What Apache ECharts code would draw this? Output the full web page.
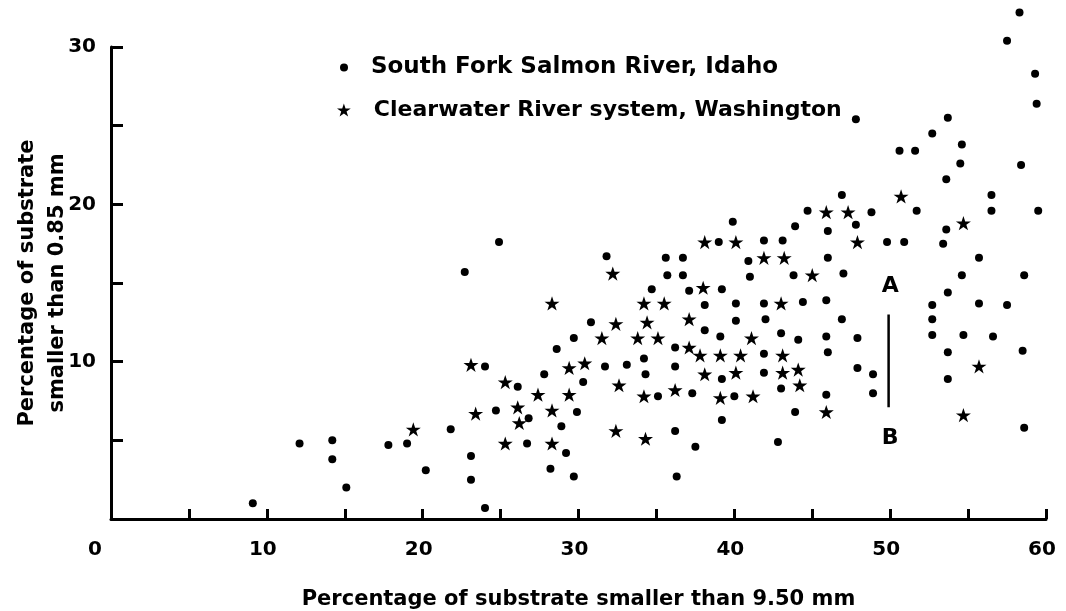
<!DOCTYPE html>
<html><head><meta charset="utf-8">
<script src="https://cdn.jsdelivr.net/npm/echarts/dist/echarts.min.js"></script>
<style>html,body{margin:0;padding:0;background:#fff}#c{width:1066px;height:611px}</style>
</head><body><div id="c"></div>
<script>
// ---- data ----
const xTickLabels = [0, 10, 20, 30, 40, 50, 60];
const yTickLabels = [10, 20, 30];
const salmonName = 'South Fork Salmon River, Idaho';
const clearwaterName = 'Clearwater River system, Washington';
const xTitle = 'Percentage of substrate smaller than 9.50 mm';
const yTitle = 'Percentage of substrate\nsmaller than 0.85 mm';

const salmonPoints = [
  [58.3,32.2],[57.5,30.4],[59.3,28.3],[59.4,26.4],[47.8,25.4],[53.7,25.5],[52.7,24.5],[54.6,23.8],
  [50.6,23.4],[51.6,23.4],[54.5,22.6],[58.4,22.5],[53.6,21.6],[46.9,20.6],[56.5,20.6],
  [44.7,19.6],[48.8,19.5],[51.7,19.6],[56.5,19.6],[59.5,19.6],[47.8,18.7],[46.0,18.3],[53.6,18.4],
  [49.8,17.6],[50.9,17.6],[53.4,17.5],[46.0,16.6],[55.7,16.6],[47.0,15.6],[54.6,15.5],[58.6,15.5],
  [44.4,13.8],[45.9,13.9],[53.7,14.4],[52.7,13.6],[55.7,13.7],[57.5,13.6],[46.9,12.7],[52.7,12.7],
  [45.9,11.6],[47.9,11.5],[52.7,11.7],[54.7,11.7],[56.6,11.6],[46.0,10.6],[53.7,10.6],[58.5,10.7],
  [47.9,9.6],[48.9,9.2],[53.7,8.9],[48.9,8.0],[45.9,7.9],[58.6,5.8],
  [39.9,18.9],[43.9,18.6],[39.0,17.6],[41.9,17.7],[43.1,17.7],[31.8,16.7],[35.6,16.6],[36.7,16.6],
  [40.9,16.4],[35.7,15.5],[36.7,15.5],[41.0,15.4],[43.8,15.5],[34.7,14.6],[37.1,14.5],[39.2,14.6],
  [38.1,13.6],[40.1,13.7],[41.9,13.7],[30.8,12.5],[40.1,12.6],[42.0,12.7],[29.7,11.5],[38.1,12.0],
  [39.1,11.6],[43.0,11.8],[44.1,11.4],[36.2,10.9],[41.9,10.5],[31.7,9.7],[33.1,9.8],[34.2,10.2],
  [36.2,9.7],[34.3,9.2],[39.2,8.9],[41.9,9.3],
  [30.3,8.7],[35.1,7.8],[37.3,8.0],[40.0,7.8],[43.0,8.3],[43.9,6.8],[29.9,6.8],[39.2,6.3],
  [36.2,5.6],[37.5,4.6],[42.8,4.9],[29.7,2.7],[36.3,2.7],
  [26.1,8.4],[27.8,9.2],[24.7,6.9],[26.8,6.4],[28.9,5.9],[21.8,5.7],[26.7,4.8],[29.2,4.2],
  [28.2,3.2],[14.2,5.0],[14.2,3.8],[17.8,4.7],[19.0,4.8],[20.2,3.1],[15.1,2.0],[23.1,4.0],
  [23.1,2.5],[24.0,0.7],[12.1,4.8],[9.1,1.0],
  [24.9,17.6],[22.7,15.7],[28.6,10.8],[24.0,9.7]
];

const clearwaterPoints = [
  [50.7,20.5],[45.9,19.5],[47.3,19.5],[54.7,18.8],[47.9,17.6],[45.0,15.5],[55.7,9.7],[45.9,6.8],[54.7,6.6],
  [38.1,17.6],[40.1,17.6],[41.9,16.6],[43.2,16.6],[32.2,15.6],[38.0,14.7],[34.2,13.7],[35.5,13.7],
  [43.0,13.7],[32.4,12.4],[34.4,12.5],[37.1,12.7],[31.5,11.5],[33.8,11.5],[35.1,11.5],[41.1,11.5],
  [37.1,10.9],[37.8,10.4],[39.1,10.4],[40.4,10.4],[43.1,10.4],[30.4,9.9],[38.1,9.2],[40.1,9.3],
  [43.1,9.3],[44.1,9.5],
  [32.6,8.5],[34.2,7.8],[36.2,8.2],[39.1,7.7],[41.2,7.8],[44.2,8.5],[32.4,5.6],[34.3,5.1],
  [25.3,8.7],[29.4,9.6],[27.4,7.9],[29.4,7.9],[23.4,6.7],[26.1,7.1],[28.3,6.9],[26.2,6.1],
  [19.4,5.7],[25.3,4.8],[28.3,4.8],
  [28.3,13.7],[23.1,9.8]
];

const abLine = [[49.9,13.0],[49.9,7.1]];
const abLabels = [[50.0,14.8,'A'],[50.0,5.1,'B']];

// ---- chart ----
const FONT = 'DejaVu Sans';
const STAR = 'path://M50,0 L61.8,35.3 L99,35.3 L69,57.1 L80.4,92.7 L50,70.6 L19.6,92.7 L31,57.1 L1,35.3 L38.2,35.3 Z';
const chart = echarts.init(document.getElementById('c'), null, {renderer: 'canvas'});
const txt = {color: '#000', fontFamily: FONT, fontWeight: 'bold'};

chart.setOption({
  backgroundColor: '#fff',
  animation: false,
  grid: {left: 111, right: 20, top: 47, bottom: 92, containLabel: false, outerBoundsMode: 'none'},
  legend: [
    {data: [salmonName], left: 335, top: 51, orient: 'vertical', icon: 'circle',
     itemWidth: 44, itemHeight: 8, textStyle: Object.assign({fontSize: 23}, txt), selectedMode: false},
    {data: [clearwaterName], left: 332, top: 94, orient: 'vertical', icon: STAR,
     itemWidth: 50, itemHeight: 13, textStyle: Object.assign({fontSize: 22}, txt), selectedMode: false}
  ],
  xAxis: {
    type: 'value', min: 0, max: 60, interval: 5,
    axisLine: {lineStyle: {color: '#000', width: 3}},
    axisTick: {inside: true, length: 10, lineStyle: {color: '#000', width: 3}},
    splitLine: {show: false},
    axisLabel: Object.assign({
      fontSize: 20, margin: 21,
      formatter: v => xTickLabels.includes(v) ? (v === 0 ? '{z|0}' : '{n|' + v + '}') : '',
      rich: {
        z: Object.assign({fontSize: 20, padding: [0, 32, 0, 0]}, txt),
        n: Object.assign({fontSize: 20, padding: [0, 8, 0, 0]}, txt)
      }
    }, txt),
    name: xTitle, nameLocation: 'middle', nameGap: 70, nameMoveOverlap: false,
    nameTextStyle: Object.assign({fontSize: 21}, txt)
  },
  yAxis: {
    type: 'value', min: 0, max: 30, interval: 5,
    axisLine: {lineStyle: {color: '#000', width: 3}},
    axisTick: {inside: true, length: 12, lineStyle: {color: '#000', width: 3}},
    splitLine: {show: false},
    axisLabel: Object.assign({fontSize: 20, margin: 15,
      formatter: v => yTickLabels.includes(v) ? String(v) : ''}, txt),
    name: yTitle, nameLocation: 'middle', nameRotate: 90, nameGap: 38, nameMoveOverlap: false,
    nameTextStyle: Object.assign({fontSize: 21, lineHeight: 30}, txt)
  },
  series: [
    {name: salmonName, type: 'scatter', data: salmonPoints, symbol: 'circle', symbolSize: 8,
     itemStyle: {color: '#000', opacity: 1}, clip: false},
    {name: clearwaterName, type: 'scatter', data: clearwaterPoints, symbol: STAR, symbolSize: 15,
     symbolKeepAspect: true, itemStyle: {color: '#000', opacity: 1}, clip: false},
    {name: 'AB', type: 'line', data: abLine, showSymbol: false, symbol: 'none',
     lineStyle: {color: '#000', width: 2.5, opacity: 1}, silent: true},
    {name: 'ABlabels', type: 'scatter', data: abLabels, symbolSize: 0, silent: true,
     itemStyle: {opacity: 1, color: '#000'},
     label: Object.assign({show: true, position: 'inside', fontSize: 22, opacity: 1, formatter: p => p.data[2]}, txt)}
  ]
});
</script></body></html>
